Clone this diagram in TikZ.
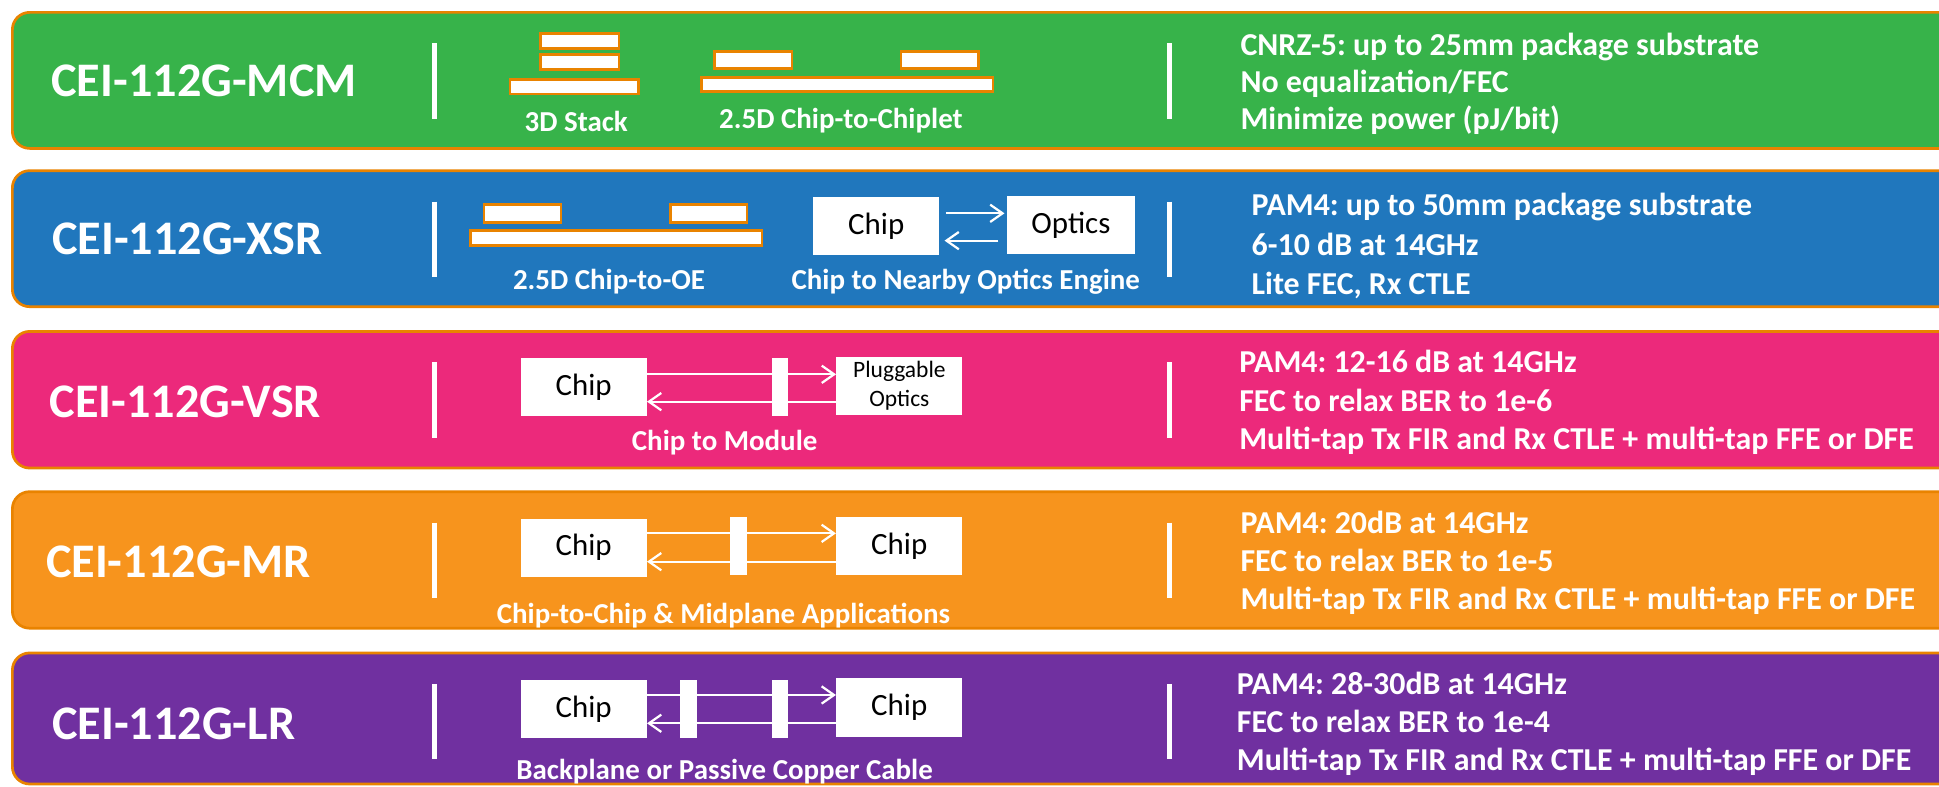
\documentclass[tikz,border=0pt]{standalone}
\usepackage{fontspec}
\setmainfont{Carlito}
\usetikzlibrary{arrows.meta,calc}
\definecolor{bgreen}{HTML}{37B34A}
\definecolor{bblue}{HTML}{2077BD}
\definecolor{bpink}{HTML}{EC297B}
\definecolor{borange}{HTML}{F7941D}
\definecolor{bpurple}{HTML}{7030A0}
\definecolor{edge}{HTML}{E98300}
\frenchspacing
\begin{document}
\begin{tikzpicture}[x=1pt,y=-1pt,
 band/.style={draw=edge,line width=2.2pt,rounded corners=14pt},
 title/.style={anchor=base west,text=white,font=\fontsize{39}{39}\selectfont\bfseries,inner sep=0pt},
 info/.style={anchor=base west,text=white,font=\fontsize{25.8}{25.8}\selectfont\bfseries,inner sep=0pt},
 lbl/.style={anchor=base,text=white,font=\fontsize{23.4}{23.4}\selectfont\bfseries,inner sep=0pt},
 sep/.style={draw=white,line width=4pt},
 die/.style={draw=edge,fill=white,line width=2.2pt},
 box/.style={fill=white,inner sep=0pt,minimum width=102pt,minimum height=47pt,font=\fontsize{25}{25}\selectfont,text=black},
 conn/.style={fill=white,inner sep=0pt,minimum height=47pt},
 arr/.style={draw=white,line width=1.8pt,-{Straight Barb[length=10pt,width=14pt,line width=1.8pt]}},
]
\useasboundingbox (0,0) rectangle (1568,636.4);
\clip (0,0) rectangle (1568,636.4);

% bands
\draw[band,fill=bgreen] (10,10) rectangle (1620,120);
\draw[band,fill=bblue] (10,138) rectangle (1620,248);
\draw[band,fill=bpink] (10,268) rectangle (1620,378.5);
\draw[band,fill=borange] (10,397.6) rectangle (1620,508);
\draw[band,fill=bpurple] (10,528) rectangle (1620,634);

% titles
\node[title] (t1) at (41.4,78.2) {CEI-112G-MCM};
\node[title] (t2) at (42,206) {CEI-112G-XSR};
\node[title] (t3) at (40,338) {CEI-112G-VSR};
\node[title] (t4) at (37,467) {CEI-112G-MR};
\node[title] (t5) at (42,598.4) {CEI-112G-LR};

% separators
\foreach \t in {10,138,268,397.6,528}{
  \draw[sep] (351,\t+25) -- (351,\t+86);
  \draw[sep] (946,\t+25) -- (946,\t+86);
}

% row 1: 3D stack and 2.5D chiplet
\draw[die] (437,27) rectangle (500.5,39);
\draw[die] (437,44) rectangle (500.5,56);
\draw[die] (412.5,64) rectangle (516.5,76);
\node[lbl] (l1a) at (466,106.5) {3D Stack};
\draw[die] (577.5,41.5) rectangle (640.5,55.5);
\draw[die] (728.5,41.5) rectangle (791.5,55.5);
\draw[die] (567,62.5) rectangle (803,74);
\node[lbl] (l1b) at (680,104) {2.5D Chip-to-Chiplet};

% row 1 info
\node[info] (i11) at (1003,44.5) {CNRZ-5: up to 25mm package substrate};
\node[info] (i12) at (1003,74.5) {No equalization/FEC};
\node[info] (i13) at (1003,104.5) {Minimize power (pJ/bit)};

% row 2
\draw[die] (391.3,165.4) rectangle (453.7,180.1);
\draw[die] (542,165.4) rectangle (604,180.1);
\draw[die] (380.6,186.4) rectangle (616.2,198.5);
\node[lbl] (l2a) at (492.5,234) {2.5D Chip-to-OE};
\node[box] (c2) at (708.6,183.1) {Chip};
\node[box,minimum width=103pt] (o2) at (866,181.8) {Optics};
\draw[arr,shorten <=5pt,shorten >=2pt] (c2.east |- 0,172.5) -- (o2.west |- 0,172.5);
\draw[arr,shorten <=7pt,shorten >=4pt] (o2.west |- 0,194.6) -- (c2.east |- 0,194.6);
\node[lbl] (l2b) at (781,234.5) {Chip to Nearby Optics Engine};
\node[info] (i21) at (1012,174.5) {PAM4: up to 50mm package substrate};
\node[info] (i22) at (1012,206.5) {6-10 dB at 14GHz};
\node[info] (i23) at (1012,238.5) {Lite FEC, Rx CTLE};

% row 3
\node[box] (c3) at (472,313.2) {Chip};
\node[box,align=center,font=\fontsize{19}{23}\selectfont] (p3) at (727.3,311.8) {Pluggable\\Optics};
\draw[arr] (c3.east |- 0,302.7) -- (p3.west |- 0,302.7);
\draw[arr] (p3.west |- 0,324.8) -- (c3.east |- 0,324.8);
\node[conn,minimum width=13pt] (k3) at (630.4,313.2) {};
\node[lbl] (l3) at (586,364.7) {Chip to Module};
\node[info] (i31) at (1002,301.5) {PAM4: 12-16 dB at 14GHz};
\node[info] (i32) at (1002,332.5) {FEC to relax BER to 1e-6};
\node[info] (i33) at (1002,363.5) {Multi-tap Tx FIR and Rx CTLE + multi-tap FFE or DFE};

% row 4
\node[box] (c4) at (472,442.8) {Chip};
\node[box] (d4) at (727.2,441.4) {Chip};
\draw[arr] (c4.east |- 0,431.3) -- (d4.west |- 0,431.3);
\draw[arr] (d4.west |- 0,454.2) -- (c4.east |- 0,454.2);
\node[conn,minimum width=14pt] (k4) at (597,441.4) {};
\node[lbl] (l4) at (585,504) {Chip-to-Chip \& Midplane Applications};
\node[info] (i41) at (1003,431.3) {PAM4: 20dB at 14GHz};
\node[info] (i42) at (1003,462) {FEC to relax BER to 1e-5};
\node[info] (i43) at (1003,492.5) {Multi-tap Tx FIR and Rx CTLE + multi-tap FFE or DFE};

% row 5
\node[box] (c5) at (472,573.2) {Chip};
\node[box] (d5) at (727.2,572.1) {Chip};
\draw[arr] (c5.east |- 0,562) -- (d5.west |- 0,562);
\draw[arr] (d5.west |- 0,584.9) -- (c5.east |- 0,584.9);
\node[conn,minimum width=13.7pt] (k5a) at (556.75,573.2) {};
\node[conn,minimum width=13pt] (k5b) at (630.4,573.2) {};
\node[lbl] (l5) at (586,630.7) {Backplane or Passive Copper Cable};
\node[info] (i51) at (1000,562) {PAM4: 28-30dB at 14GHz};
\node[info] (i52) at (1000,592.5) {FEC to relax BER to 1e-4};
\node[info] (i53) at (1000,622.7) {Multi-tap Tx FIR and Rx CTLE + multi-tap FFE or DFE};
\end{tikzpicture}
\end{document}
